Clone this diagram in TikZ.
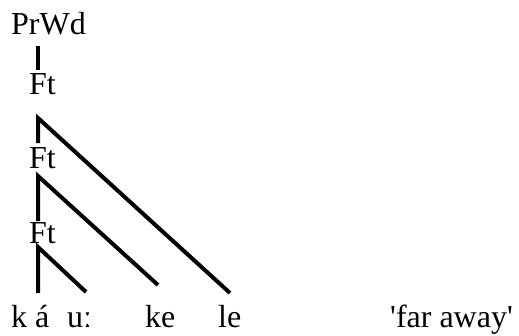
\documentclass[tikz,border=0pt]{standalone}
\usepackage{fontspec}
\setmainfont{Liberation Serif}[Ligatures=TeXOff]
\begin{document}
\begin{tikzpicture}[x=1pt,y=-1pt,
  lbl/.style={anchor=base west,inner sep=0pt,font=\fontsize{32}{36}\selectfont},
  br/.style={line width=4pt}]
\useasboundingbox (0,0) rectangle (519,335);
\node[lbl] (prwd) at (11,34) {PrWd};
\node[lbl] (ft1) at (29,94) {Ft};
\node[lbl] (ft2) at (29,168) {Ft};
\node[lbl] (ft3) at (29,243) {Ft};
\node[lbl] (k) at (11,327) {k};
\node[lbl] (a) at (35,327) {á};
\node[lbl] (u) at (67,327) {uː};
\node[lbl] (ke) at (145,327) {ke};
\node[lbl] (le) at (218,327) {le};
\node[lbl,anchor=base east] (gl) at (513,327) {'far away'};
% connector ends
\coordinate (p0) at (38,46);
\coordinate (f1a) at (38,70);
\coordinate (f1b) at (38,118);
\coordinate (f2a) at (38,143);
\coordinate (f2b) at (38,176);
\coordinate (f3a) at (38,221);
\coordinate (f3b) at (38,247);
\coordinate (aa) at (38,293);
\coordinate (uu) at (86,292);
\coordinate (kk) at (158,285);
\coordinate (ll) at (230,293);
\draw[br] (p0) -- (f1a);
\draw[br,line join=miter] (f2a) -- (f1b) -- (ll);
\draw[br,line join=miter] (f3a) -- (f2b) -- (kk);
\draw[br,line join=miter] (aa) -- (f3b) -- (uu);
\end{tikzpicture}
\end{document}
